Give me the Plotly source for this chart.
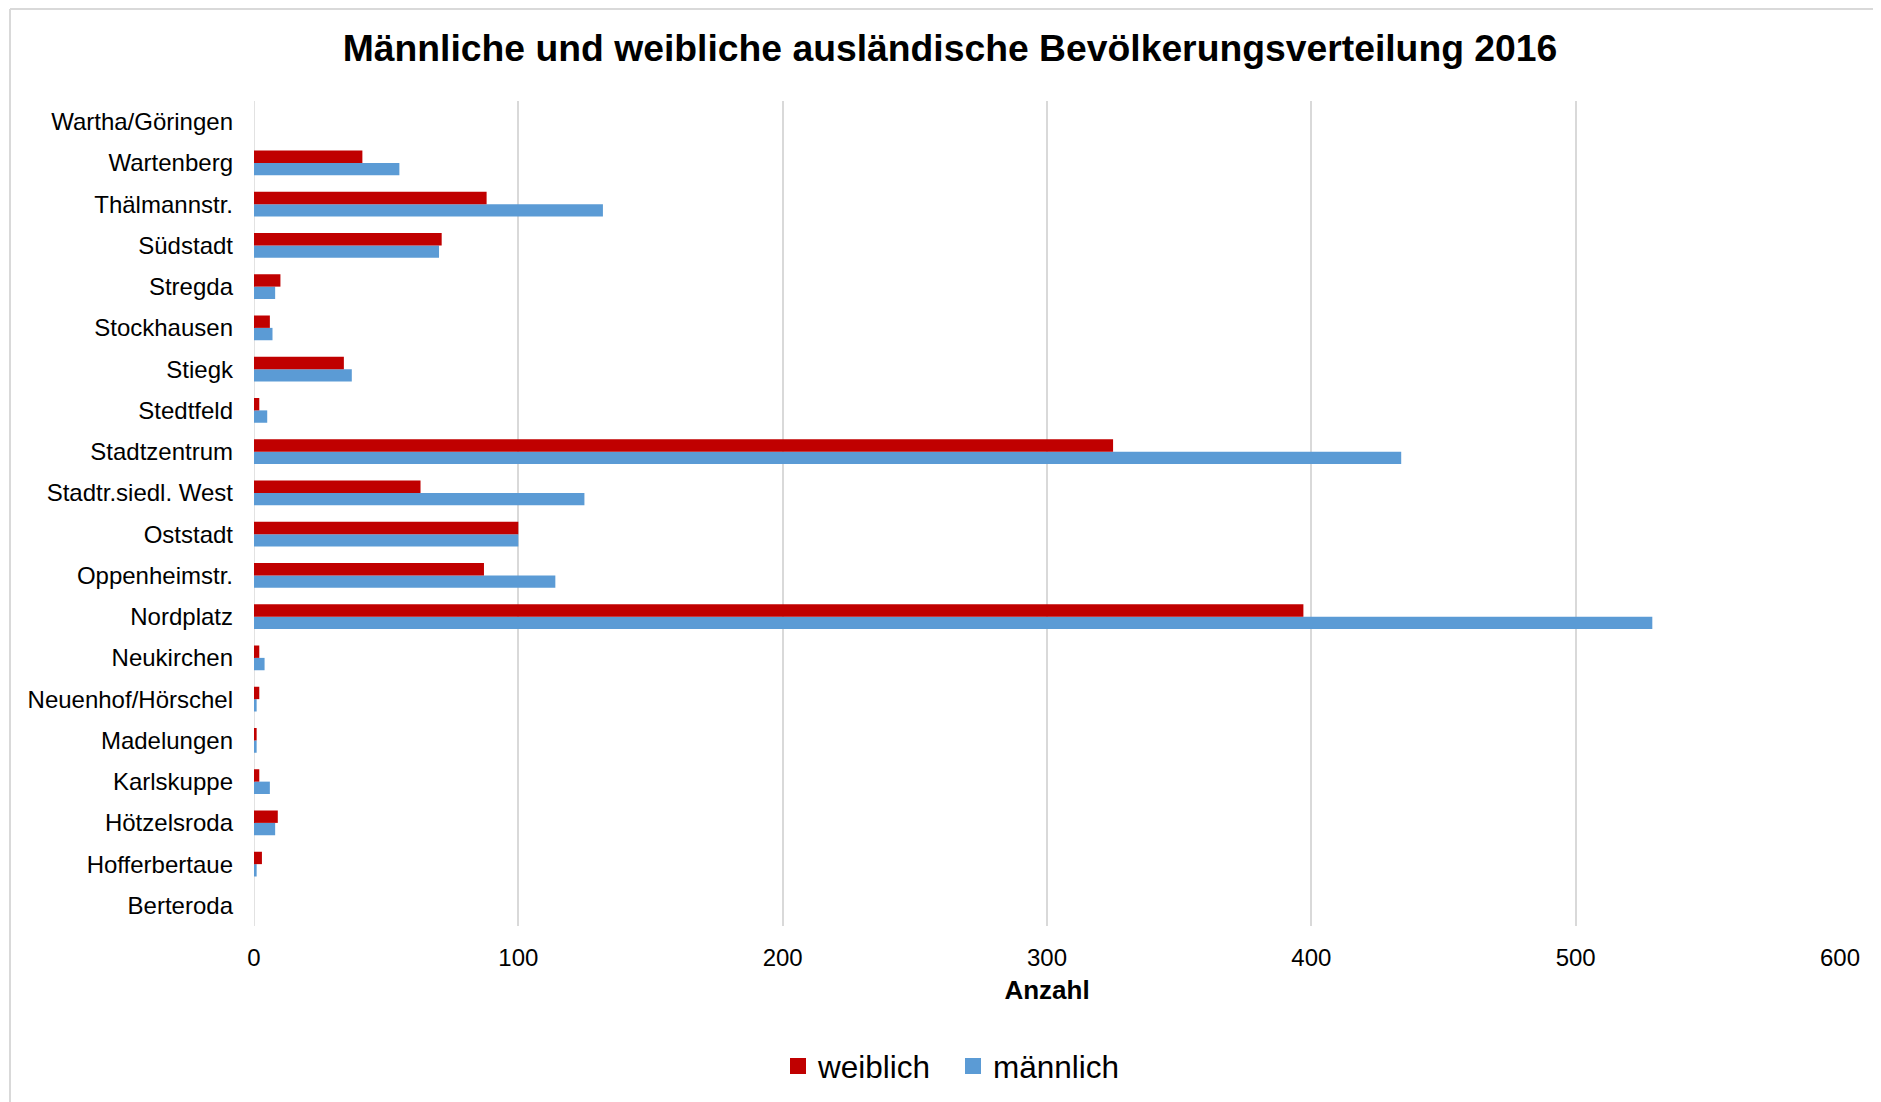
import plotly.graph_objects as go

# categories listed bottom -> top (as plotted on the y axis)
stadtteile = [
    "Berteroda", "Hofferbertaue", "Hötzelsroda", "Karlskuppe", "Madelungen",
    "Neuenhof/Hörschel", "Neukirchen", "Nordplatz", "Oppenheimstr.", "Oststadt",
    "Stadtr.siedl. West", "Stadtzentrum", "Stedtfeld", "Stiegk", "Stockhausen",
    "Stregda", "Südstadt", "Thälmannstr.", "Wartenberg", "Wartha/Göringen",
]
weiblich = [0, 3, 9, 2, 1, 2, 2, 397, 87, 100, 63, 325, 2, 34, 6, 10, 71, 88, 41, 0]
maennlich = [0, 1, 8, 6, 1, 1, 4, 529, 114, 100, 125, 434, 5, 37, 7, 8, 70, 132, 55, 0]
x_ticks = [0, 100, 200, 300, 400, 500, 600]

FONT = "Liberation Sans, Arial, sans-serif"
RED = "#C00000"
BLUE = "#5B9BD5"
GRID = "#D9D9D9"

W, H = 1873, 1094  # page body has an 8px margin

fig = go.Figure()
# blue first so that the red bar sits above it inside each group
fig.add_trace(go.Bar(
    y=stadtteile, x=maennlich, name="männlich", orientation="h",
    marker=dict(color=BLUE, line=dict(width=0)), showlegend=False,
))
fig.add_trace(go.Bar(
    y=stadtteile, x=weiblich, name="weiblich", orientation="h",
    marker=dict(color=RED, line=dict(width=0)), showlegend=False,
))
# legend entries with larger square keys
for name, col in [("weiblich", RED), ("männlich", BLUE)]:
    fig.add_trace(go.Scatter(
        x=[None], y=[None], mode="markers", name=name,
        marker=dict(symbol="square", size=20, color=col),
    ))

fig.update_layout(
    width=W, height=H,
    margin=dict(l=246, r=41, t=93, b=176),
    paper_bgcolor="white", plot_bgcolor="white",
    barmode="group", bargap=0.4, bargroupgap=0,
    font=dict(family=FONT, color="black", size=24),
    title=dict(
        text="<b>Männliche und weibliche ausländische Bevölkerungsverteilung 2016</b>",
        x=942 / W, xanchor="center", y=1 - 40 / H, yanchor="middle",
        font=dict(family=FONT, size=37.3, color="black"),
    ),
    legend=dict(
        orientation="h",
        x=770 / W, xref="container", xanchor="left",
        y=1 - 1058 / H, yref="container", yanchor="middle",
        font=dict(family=FONT, size=31.5, color="black"),
        itemwidth=30, tracegroupgap=0, entrywidth=130,
    ),
    showlegend=True,
)

fig.update_xaxes(
    range=[0, 600], tickvals=x_ticks, ticktext=[str(v) for v in x_ticks],
    showgrid=True, gridcolor=GRID, gridwidth=1.5,
    zeroline=False, showline=False, ticks="",
    tickfont=dict(family=FONT, size=24, color="black"),
    ticklabelstandoff=15,
    title=dict(text="<b>Anzahl</b>", standoff=10,
               font=dict(family=FONT, size=26, color="black")),
    fixedrange=True,
)
fig.update_yaxes(
    categoryorder="array", categoryarray=stadtteile,
    showgrid=False, zeroline=False, showline=False, ticks="",
    tickfont=dict(family=FONT, size=24, color="black"),
    ticklabelstandoff=20,
    fixedrange=True,
)

# axis line at zero
fig.add_shape(type="line", xref="x", yref="paper", x0=0, x1=0, y0=0, y1=1,
              line=dict(color=GRID, width=1.5), layer="below")

# chart-area frame (left and top edges visible)
pw, ph = 1586, 825
fl = (2 - 246) / pw
ft = (918 - 1) / ph
fig.add_shape(type="line", xref="paper", yref="paper", x0=fl, x1=fl, y0=ft, y1=-0.3,
              line=dict(color=GRID, width=2))
fig.add_shape(type="line", xref="paper", yref="paper", x0=fl, x1=1.1, y0=ft, y1=ft,
              line=dict(color=GRID, width=2))

fig.write_html("out.html")
